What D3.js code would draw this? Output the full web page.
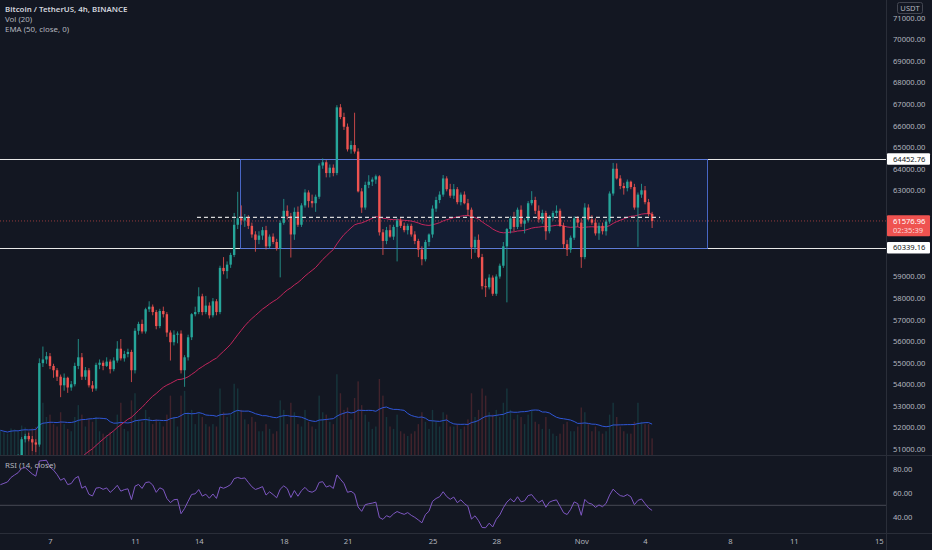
<!DOCTYPE html>
<html>
<head>
<meta charset="utf-8">
<script src="https://cdn.jsdelivr.net/npm/d3@7"></script>
<style>
  html, body { margin: 0; padding: 0; background: #131722; }
  svg { display: block; }
  text { font-family: "Noto Sans", "Open Sans", sans-serif; }
</style>
</head>
<body>
<div id="chart"></div>
<script>
// BTC/USDT 4h candles, first bar Oct 4 2021 16:00 UTC
const startTime = Date.UTC(2021, 9, 4, 16);
const barMs = 4 * 3600 * 1000;

const opens = [
  48900, 49100,
  49250, 49400, 49950, 50300, 50650, 51450,
  51600, 51450, 51300, 51200, 54980, 55150,
  55300, 54850, 54650, 54350, 53950, 54300,
  53850, 54000, 54850, 55250, 54350, 54650,
  53950, 53800, 54900, 55000, 54850, 55050,
  54700, 55100, 55650, 55200, 55400, 55500,
  54650, 56480, 56800, 56450, 57480, 57600,
  57350, 56700, 57400, 57250, 56400, 55950,
  56300, 56350, 54650, 55250, 56180, 57250,
  57350, 58080, 57350, 57650, 57200, 57850,
  57350, 59400, 59250, 59550, 60000, 61400,
  61700, 61600, 61750, 61350, 60950, 60700,
  60900, 61150, 60400, 60850, 60600, 60300,
  61490, 62050, 61800, 60950, 62000, 61400,
  62300, 62900, 62500, 62400, 62700, 64150,
  64300, 63800, 64050, 63800, 66850, 66400,
  65950, 64900, 65100, 64800, 62950, 62200,
  63250, 63400, 63500, 63650, 61050, 60650,
  61150, 60850, 61300, 61600, 61350, 61150,
  61350, 60950, 60650, 60250, 59800, 60600,
  60950, 62150, 62550, 62800, 63550, 63050,
  62750, 63050, 62450, 62800, 62400, 62100,
  60350, 60700, 59900, 58550, 58500, 58950,
  58200, 59000, 59500, 60400, 61200, 61700,
  61300, 62100, 61450, 61600, 62400, 62550,
  62050, 61650, 61950, 61100, 61750, 61950,
  62050, 61350, 60500, 60250, 60800, 61700,
  61500, 59900, 62200, 61650, 61500, 61000,
  61350, 61100, 61550, 62850, 64000, 63550,
  63200, 63100, 63400, 63150, 62200, 62800,
  63000, 62450, 61900
];
const highs = [
  49300, 49500,
  49600, 50100, 50450, 50750, 51550, 51700,
  51750, 51600, 51450, 55200, 55750, 55500,
  55450, 54950, 54750, 54450, 54500, 54350,
  54150, 55000, 56100, 55450, 54800, 54750,
  54150, 55000, 55150, 55100, 55250, 55150,
  55250, 56000, 56100, 55550, 55650, 55600,
  56600, 56900, 57000, 57550, 57850, 57700,
  57450, 57500, 57600, 57350, 56500, 56500,
  56450, 56500, 55350, 56300, 57300, 57600,
  58500, 58200, 58100, 57800, 58000, 57950,
  59500, 59900, 59700, 60100, 61950, 62930,
  62300, 61900, 61850, 61500, 61100, 61100,
  61300, 61350, 60950, 61000, 60750, 61600,
  62600, 62300, 61950, 62200, 62250, 62400,
  63050, 63000, 62800, 62800, 64250, 64480,
  64400, 64200, 64200, 66950, 67000, 66600,
  66100, 65300, 66600, 64950, 63100, 63400,
  63700, 63600, 63730, 63700, 61200, 61300,
  61400, 61400, 61700, 61750, 61500, 61450,
  61450, 61100, 60750, 60400, 60700, 61000,
  62300, 62700, 62950, 63710, 63650, 63300,
  63290, 63150, 62900, 62950, 62600, 62200,
  60850, 60950, 60050, 58900, 59100, 59050,
  59100, 59600, 60600, 61250, 61800, 62000,
  62200, 62300, 61700, 62500, 62960, 62700,
  62300, 62100, 62050, 61850, 62050, 62300,
  62150, 61500, 60700, 60900, 61800, 61800,
  61700, 62400, 62350, 61850, 61700, 61500,
  61500, 61650, 62950, 64270, 64250, 63700,
  63350, 63500, 63450, 63300, 62900, 63300,
  63200, 62600, 62000
];
const lows = [
  48600, 48950,
  49000, 49300, 49800, 50150, 50550, 51300,
  51350, 50900, 50850, 51100, 54800, 54950,
  54700, 54300, 54150, 53400, 53700, 53600,
  53700, 53900, 54700, 54200, 54200, 53850,
  53650, 53700, 54700, 54650, 54800, 54500,
  54600, 55000, 55100, 55050, 55250, 54100,
  54500, 56300, 56350, 56350, 57350, 57200,
  56550, 56600, 57100, 56200, 55100, 55800,
  55900, 54500, 53880, 55100, 56050, 57150,
  57250, 57200, 57250, 57050, 57100, 57200,
  57250, 59100, 58900, 59400, 59900, 61200,
  61400, 61300, 61200, 60800, 60150, 60500,
  60700, 60250, 60300, 60500, 60200, 58960,
  61400, 61650, 59880, 60700, 61300, 61300,
  62200, 62200, 62200, 62000, 62600, 64000,
  63600, 63600, 63650, 63700, 66300, 65800,
  64800, 64700, 64700, 62900, 61950, 62100,
  63100, 63200, 63300, 60900, 60000, 60500,
  60800, 60700, 59700, 61250, 61050, 60950,
  60850, 60500, 59900, 59520, 59700, 60400,
  60800, 62000, 62400, 62700, 62950, 62650,
  62600, 62350, 62300, 62350, 61800, 59820,
  60100, 59850, 58400, 58050, 58400, 58100,
  58100, 58900, 59400, 57800, 61000, 61100,
  61200, 61300, 61000, 61500, 62300, 61900,
  61500, 61450, 60700, 61000, 61600, 61800,
  61300, 60300, 59950, 60100, 60700, 61300,
  59400, 59800, 61600, 61400, 60900, 60700,
  60950, 60900, 61450, 62750, 63500, 63050,
  62800, 62950, 63050, 62100, 60380, 62650,
  62350, 61800, 61250
];
const closes = [
  49100, 49250,
  49400, 49950, 50300, 50650, 51450, 51600,
  51450, 51300, 51200, 54980, 55150, 55300,
  54850, 54650, 54350, 53950, 54300, 53850,
  54000, 54850, 55250, 54350, 54650, 53950,
  53800, 54900, 55000, 54850, 55050, 54700,
  55100, 55650, 55200, 55400, 55500, 54650,
  56480, 56800, 56450, 57480, 57600, 57350,
  56700, 57400, 57250, 56400, 55950, 56300,
  56350, 54650, 55250, 56180, 57250, 57350,
  58080, 57350, 57650, 57200, 57850, 57350,
  59400, 59250, 59550, 60000, 61400, 61700,
  61600, 61750, 61350, 60950, 60700, 60900,
  61150, 60400, 60850, 60600, 60300, 61490,
  62050, 61800, 60950, 62000, 61400, 62300,
  62900, 62500, 62400, 62700, 64150, 64300,
  63800, 64050, 63800, 66850, 66400, 65950,
  64900, 65100, 64800, 62950, 62200, 63250,
  63400, 63500, 63650, 61050, 60650, 61150,
  60850, 61300, 61600, 61350, 61150, 61350,
  60950, 60650, 60250, 59800, 60600, 60950,
  62150, 62550, 62800, 63550, 63050, 62750,
  63050, 62450, 62800, 62400, 62100, 60350,
  60700, 59900, 58550, 58500, 58950, 58200,
  59000, 59500, 60400, 61200, 61700, 61300,
  62100, 61450, 61600, 62400, 62550, 62050,
  61650, 61950, 61100, 61750, 61950, 62050,
  61350, 60500, 60250, 60800, 61700, 61500,
  59900, 62200, 61650, 61500, 61000, 61350,
  61100, 61550, 62850, 64000, 63550, 63200,
  63100, 63400, 63150, 62200, 62800, 63000,
  62450, 61900, 61576.96
];
const volumes = [
  5200, 4800,
  4500, 5600, 5400, 5000, 6200, 5800,
  5000, 5600, 5900, 17000, 11000, 8000,
  8500, 6500, 6000, 9000, 6500, 5500,
  5000, 8000, 10500, 8500, 6000, 7500,
  7000, 8000, 5000, 4500, 4200, 4800,
  5000, 8500, 11000, 5500, 5000, 11500,
  13000, 7500, 7000, 9500, 8000, 6500,
  7500, 7000, 6000, 8500, 12500, 8000,
  6000, 12500, 13500, 9000, 9500, 6500,
  9000, 8000, 6500, 6000, 6500, 6000,
  14000, 9000, 8000, 8500, 15000, 14000,
  9500, 7500, 6500, 8000, 7000, 5000,
  5000, 6500, 5500, 4500, 5000, 11500,
  9500, 6500, 11000, 9000, 6500, 6000,
  9500, 7000, 6000, 5500, 12500, 9000,
  8500, 7000, 6500, 17000, 13000, 9500,
  10000, 7500, 12000, 15500, 10500, 8500,
  7000, 5500, 6000, 16000, 12500, 8000,
  6000, 5500, 8500, 5000, 4500, 4000,
  4500, 5000, 6500, 9000, 7000, 5500,
  9500, 7000, 6000, 9000, 8500, 6000,
  6000, 6500, 5500, 6000, 7500, 13000,
  8000, 9500, 14000, 12500, 9000, 8500,
  9500, 8000, 11000, 14000, 9500, 7500,
  8500, 8000, 6500, 8500, 9500, 7000,
  6500, 5500, 8000, 5500, 4500, 4000,
  4500, 6500, 7000, 5000, 5000, 6000,
  10000, 9000, 6500, 5000, 6000, 5000,
  4500, 5000, 8500, 11000, 8000, 6000,
  5000, 4500, 4500, 7000, 11000, 7000,
  6500, 6500, 3500
];

// indicator state before the first visible bar (estimated)
const emaLength = 50, emaSeed = 46400;
const rsiLength = 14, rsiSeedGain = 220, rsiSeedLoss = 115;
const volMaLength = 20;

// x axis ticks
const tickDates = ["2021-10-07", "2021-10-11", "2021-10-14", "2021-10-18", "2021-10-21", "2021-10-25",
  "2021-10-28", "2021-11-01", "2021-11-04", "2021-11-08", "2021-11-11", "2021-11-15"];
const tickLabels = ["7", "11", "14", "18", "21", "25", "28", "Nov", "4", "8", "11", "15"];

// drawings
const rangeHigh = 64452.76, rangeLow = 60339.16;
const boxStart = "2021-10-15T22:30:00Z", boxEnd = "2021-11-06T22:00:00Z";
const midLevel = 61740;
const midStart = "2021-10-13T22:00:00Z", midEnd = "2021-11-04T17:00:00Z";
const lastPrice = 61576.96, countdown = "02:35:39";

const W = 932, H = 550;
const plotRight = 886;
const mainBottom = 455, rsiTop = 456, rsiBottom = 533;
const upColor = "#26a69a", downColor = "#ef5350";

const candles = closes.map((c, i) => ({
  t: new Date(startTime + i * barMs), o: opens[i], h: highs[i], l: lows[i], c, v: volumes[i]
}));

// EMA
let ema = emaSeed;
const k = 2 / (emaLength + 1);
candles.forEach(d => { ema = d.c * k + ema * (1 - k); d.ema = ema; });

// RSI (Wilder)
let ag = rsiSeedGain, al = rsiSeedLoss, prev = opens[0];
candles.forEach(d => {
  const ch = d.c - prev;
  ag = (ag * (rsiLength - 1) + Math.max(ch, 0)) / rsiLength;
  al = (al * (rsiLength - 1) + Math.max(-ch, 0)) / rsiLength;
  d.rsi = 100 - 100 / (1 + ag / al);
  prev = d.c;
});

// volume MA
candles.forEach((d, i) => {
  d.vma = d3.mean(volumes.slice(Math.max(0, i - volMaLength + 1), i + 1));
});

const x = d3.scaleUtc()
  .domain([new Date(startTime), new Date(Date.UTC(2021, 10, 15, 0))])
  .range([0.4, 878.8]);
const y = d3.scaleLinear().domain([51000, 71000]).range([448.9, 17.9]);
const yVol = d3.scaleLinear().domain([0, 20000]).range([mainBottom, 360]);
const yRsi = d3.scaleLinear().domain([40, 80]).range([517.3, 469.3]);

const svg = d3.select("#chart").append("svg")
  .attr("width", W).attr("height", H)
  .attr("viewBox", `0 0 ${W} ${H}`);

svg.append("rect").attr("width", W).attr("height", H).attr("fill", "#131722");

const defs = svg.append("defs");
defs.append("clipPath").attr("id", "clipMain")
  .append("rect").attr("x", 0).attr("y", 0).attr("width", plotRight).attr("height", mainBottom);
defs.append("clipPath").attr("id", "clipRsi")
  .append("rect").attr("x", 0).attr("y", rsiTop).attr("width", plotRight).attr("height", rsiBottom - rsiTop);

const main = svg.append("g").attr("clip-path", "url(#clipMain)");

// watermark
main.append("text")
  .attr("x", plotRight / 2).attr("y", 205)
  .attr("text-anchor", "middle")
  .attr("font-size", 36).attr("font-weight", 700)
  .attr("fill", "#ffffff").attr("fill-opacity", 0.018)
  .text("BTCUSDT, 4H");
main.append("text")
  .attr("x", plotRight / 2).attr("y", 272)
  .attr("text-anchor", "middle")
  .attr("font-size", 14)
  .attr("fill", "#ffffff").attr("fill-opacity", 0.018)
  .text("Bitcoin / TetherUS");

// range box fill
const bx0 = x(new Date(boxStart)), bx1 = x(new Date(boxEnd));
main.append("rect")
  .attr("x", bx0).attr("y", y(rangeHigh))
  .attr("width", bx1 - bx0).attr("height", y(rangeLow) - y(rangeHigh))
  .attr("fill", "#2962ff").attr("fill-opacity", 0.08);

// volume
main.append("g").selectAll("rect").data(candles).join("rect")
  .attr("x", d => x(d.t) - 0.7)
  .attr("width", 1.4)
  .attr("y", d => yVol(d.v))
  .attr("height", d => mainBottom - yVol(d.v))
  .attr("fill", d => d.c >= d.o ? upColor : downColor)
  .attr("fill-opacity", 0.22);

main.append("path").datum(candles)
  .attr("fill", "none").attr("stroke", "#2f56d6").attr("stroke-width", 1)
  .attr("d", d3.line().x(d => x(d.t)).y(d => yVol(d.vma)));

// horizontal levels
[rangeHigh, rangeLow].forEach(p => {
  main.append("line")
    .attr("x1", 0).attr("x2", plotRight)
    .attr("y1", Math.round(y(p)) + 0.5).attr("y2", Math.round(y(p)) + 0.5)
    .attr("stroke", "#e8e8e8").attr("stroke-width", 1);
});

// range box border
main.append("rect")
  .attr("x", Math.round(bx0) + 0.5).attr("y", Math.round(y(rangeHigh)) + 0.5)
  .attr("width", Math.round(bx1 - bx0)).attr("height", Math.round(y(rangeLow)) - Math.round(y(rangeHigh)))
  .attr("fill", "none").attr("stroke", "#4e6fd6").attr("stroke-opacity", 0.9).attr("stroke-width", 1);

// last price dotted line
main.append("line")
  .attr("x1", 0).attr("x2", plotRight)
  .attr("y1", y(lastPrice)).attr("y2", y(lastPrice))
  .attr("stroke", downColor).attr("stroke-opacity", 0.6)
  .attr("stroke-width", 1).attr("stroke-dasharray", "1,2");

// EMA
main.append("path").datum(candles)
  .attr("fill", "none").attr("stroke", "#c2255c").attr("stroke-width", 1)
  .attr("d", d3.line().x(d => x(d.t)).y(d => y(d.ema)));

// candles
const cg = main.append("g").selectAll("g").data(candles).join("g");
cg.append("line")
  .attr("x1", d => x(d.t)).attr("x2", d => x(d.t))
  .attr("y1", d => y(d.h)).attr("y2", d => y(d.l))
  .attr("stroke", d => d.c >= d.o ? upColor : downColor)
  .attr("stroke-width", 0.8);
cg.append("rect")
  .attr("x", d => x(d.t) - 1.2)
  .attr("width", 2.4)
  .attr("y", d => y(Math.max(d.o, d.c)))
  .attr("height", d => Math.max(0.8, Math.abs(y(d.o) - y(d.c))))
  .attr("fill", d => d.c >= d.o ? upColor : downColor);

// mid dashed line
main.append("line")
  .attr("x1", x(new Date(midStart))).attr("x2", x(new Date(midEnd)))
  .attr("y1", y(midLevel)).attr("y2", y(midLevel))
  .attr("stroke", "#d8d8d8").attr("stroke-width", 1.2).attr("stroke-dasharray", "4,3");

// RSI pane
const rsiG = svg.append("g").attr("clip-path", "url(#clipRsi)");
rsiG.append("line")
  .attr("x1", 0).attr("x2", plotRight)
  .attr("y1", yRsi(50)).attr("y2", yRsi(50))
  .attr("stroke", "#787b86").attr("stroke-opacity", 0.5);
rsiG.append("path").datum(candles)
  .attr("fill", "none").attr("stroke", "#7e57c2").attr("stroke-width", 1)
  .attr("d", d3.line().x(d => x(d.t)).y(d => yRsi(d.rsi)));

// separators
const sepColor = "#2a2e39";
svg.append("line").attr("x1", 0).attr("x2", W).attr("y1", mainBottom + 0.5).attr("y2", mainBottom + 0.5).attr("stroke", sepColor);
svg.append("line").attr("x1", 0).attr("x2", W).attr("y1", rsiBottom + 0.5).attr("y2", rsiBottom + 0.5).attr("stroke", sepColor);
svg.append("line").attr("x1", plotRight + 0.5).attr("x2", plotRight + 0.5).attr("y1", 0).attr("y2", H).attr("stroke", sepColor);

// axis tags (price levels drawn on the scale)
const tags = [
  { p: rangeHigh, lines: [d3.format(".2f")(rangeHigh)], bg: "#ffffff", fg: "#131722" },
  { p: rangeLow, lines: [d3.format(".2f")(rangeLow)], bg: "#ffffff", fg: "#131722" },
  { p: lastPrice, lines: [d3.format(".2f")(lastPrice), countdown], bg: downColor, fg: "#ffffff" }
];
const tagSpans = tags.map(t => [y(t.p) - 5.75, y(t.p) - 5.75 + t.lines.length * 9.5 + 2]);

// price axis
const axisFont = 7.6, axisColor = "#b2b5be";
const yAxis = svg.append("g").attr("transform", `translate(893,0)`)
  .call(d3.axisRight(y).ticks(20).tickFormat(d3.format(".2f")).tickSize(0).tickPadding(0));
yAxis.select(".domain").remove();
yAxis.selectAll(".tick")
  .filter(d => tagSpans.some(([a, b]) => y(d) + 4 > a && y(d) - 4 < b))
  .remove();
yAxis.selectAll("text").attr("font-size", axisFont).attr("fill", axisColor).attr("font-family", "Noto Sans, sans-serif");

const rAxis = svg.append("g").attr("transform", `translate(893,0)`)
  .call(d3.axisRight(yRsi).tickValues([40, 60, 80]).tickFormat(d3.format(".2f")).tickSize(0).tickPadding(0));
rAxis.select(".domain").remove();
rAxis.selectAll("text").attr("font-size", axisFont).attr("fill", axisColor).attr("font-family", "Noto Sans, sans-serif");

// time axis
const xAxis = svg.append("g").attr("transform", `translate(0,${rsiBottom})`)
  .call(d3.axisBottom(x).tickValues(tickDates.map(s => new Date(s + "T00:00:00Z")))
    .tickFormat((d, i) => tickLabels[i]).tickSize(0).tickPadding(6));
xAxis.select(".domain").remove();
xAxis.selectAll("text").attr("font-size", axisFont).attr("fill", axisColor).attr("font-family", "Noto Sans, sans-serif");

tags.forEach(t => {
  const yc = y(t.p);
  const g = svg.append("g");
  g.append("rect").attr("x", 887).attr("y", yc - 5.75).attr("width", 43).attr("height", t.lines.length * 9.5 + 2)
    .attr("rx", 1).attr("fill", t.bg);
  t.lines.forEach((s, i) => {
    g.append("text").attr("x", 893).attr("y", yc + i * 9.5).attr("dy", "0.35em")
      .attr("font-size", axisFont).attr("fill", i === 0 ? t.fg : "#fbd6d6").text(s);
  });
});

// currency box
svg.append("rect").attr("x", 897.5).attr("y", 2.5).attr("width", 25).attr("height", 11)
  .attr("rx", 2).attr("fill", "none").attr("stroke", "#434651");
svg.append("text").attr("x", 910).attr("y", 8).attr("dy", "0.35em").attr("text-anchor", "middle")
  .attr("font-size", axisFont).attr("fill", axisColor).text("USDT");

// legends
const legend = [
  { t: "Bitcoin / TetherUS, 4h, BINANCE", y: 12, w: 600, c: "#d1d4dc" },
  { t: "Vol (20)", y: 22, w: 400, c: "#b2b5be" },
  { t: "EMA (50, close, 0)", y: 32, w: 400, c: "#b2b5be" },
  { t: "RSI (14, close)", y: 468, w: 400, c: "#b2b5be" }
];
svg.append("g").selectAll("text").data(legend).join("text")
  .attr("x", 5).attr("y", d => d.y)
  .attr("font-size", 7.9).attr("font-weight", d => d.w).attr("fill", d => d.c)
  .text(d => d.t);
</script>
</body>
</html>
